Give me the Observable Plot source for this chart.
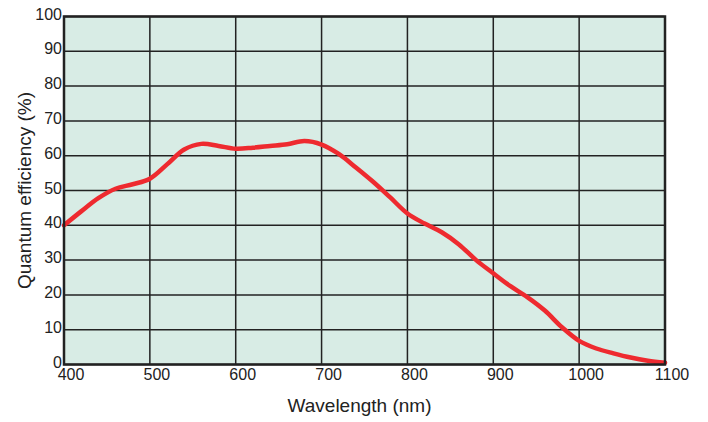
<!DOCTYPE html>
<html>
<head>
<meta charset="utf-8">
<script src="https://cdn.jsdelivr.net/npm/d3@7"></script>
<script src="https://cdn.jsdelivr.net/npm/@observablehq/plot@0.6"></script>
<style>
  html, body { margin: 0; padding: 0; background: #fff; }
  svg { font-family: "Liberation Sans", Arial, Helvetica, sans-serif; }
</style>
</head>
<body>
<div id="chart"></div>
<script>
const wavelength = [400, 420, 440, 460, 480, 500, 520, 540, 560, 580, 600, 620, 640, 660, 680, 700, 720, 740, 760, 780, 800, 820, 840, 860, 880, 900, 920, 940, 960, 980, 1000, 1020, 1040, 1060, 1080, 1100];
const efficiency = [40, 44, 47.8, 50.5, 51.8, 53.4, 57.5, 61.8, 63.4, 62.8, 62, 62.3, 62.8, 63.3, 64.2, 63.2, 60.5, 56.6, 52.5, 48, 43.4, 40.5, 38, 34.5, 30, 26.2, 22.5, 19.3, 15.5, 10.7, 6.8, 4.6, 3.2, 2, 1.1, 0.5];
const xTicks = [400, 500, 600, 700, 800, 900, 1000, 1100];
const yTicks = [0, 10, 20, 30, 40, 50, 60, 70, 80, 90, 100];
const xLabel = "Wavelength (nm)";
const yLabel = "Quantum efficiency (%)";

const data = wavelength.map((w, i) => ({w, qe: efficiency[i]}));

const chart = Plot.plot({
  width: 708,
  height: 422,
  marginLeft: 63.5,
  marginRight: 43.5,
  marginTop: 16,
  marginBottom: 58,
  style: {fontSize: "16px", color: "#222"},
  x: {domain: [400, 1100], ticks: xTicks},
  y: {domain: [0, 100], ticks: yTicks},
  marks: [
    Plot.frame({fill: "#d8ece5", stroke: null}),
    Plot.gridX(xTicks, {stroke: "#222", strokeOpacity: 1, strokeWidth: 1.5}),
    Plot.gridY(yTicks, {stroke: "#222", strokeOpacity: 1, strokeWidth: 1.5}),
    Plot.axisX(xTicks, {tickSize: 0, tickPadding: 4, dx: 7, fontSize: 16, label: null, tickFormat: d => String(d)}),
    Plot.axisY(yTicks, {tickSize: 0, tickPadding: 2, dy: -2, fontSize: 16, label: null, tickFormat: d => String(d)}),
    Plot.text([xLabel], {text: d => d, frameAnchor: "bottom", textAnchor: "middle", dy: 47, dx: -5, fontSize: 19, fill: "#222"}),
    Plot.text([yLabel], {text: d => d, frameAnchor: "left", textAnchor: "middle", dx: -39.5, rotate: -90, fontSize: 19, fill: "#222"}),
    Plot.line(data, {x: "w", y: "qe", stroke: "#ee2a2f", strokeWidth: 4.5, curve: "catmull-rom"}),
    Plot.frame({stroke: "#222", strokeWidth: 2.5})
  ]
});
document.getElementById("chart").appendChild(chart);
</script>
</body>
</html>
